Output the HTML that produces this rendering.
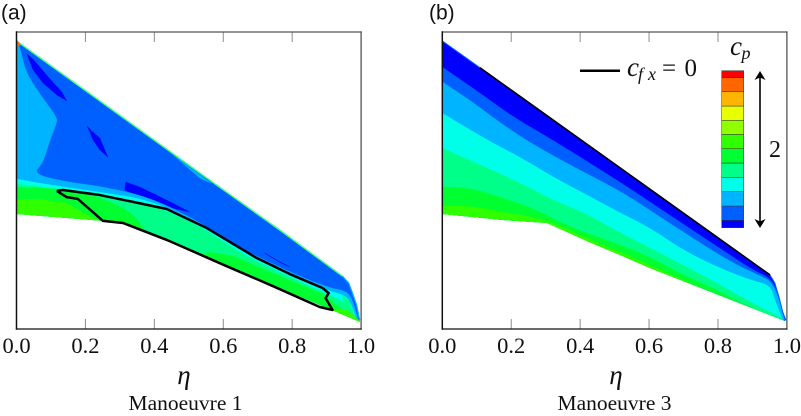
<!DOCTYPE html>
<html lang="en">
<head>
<meta charset="utf-8">
<title>Pressure coefficient contours</title>
<style>
html,body{margin:0;padding:0;background:#fff;width:801px;height:416px;overflow:hidden}
svg{display:block}
text{font-family:"Liberation Serif",serif;fill:#111}
.sans{font-family:"Liberation Sans",sans-serif}
</style>
</head>
<body>
<svg id="chart" xmlns="http://www.w3.org/2000/svg" width="801" height="416" viewBox="0 0 801 416">
<defs>
<clipPath id="clip-a"><polygon id="clip-a-shape" points=""></polygon></clipPath>
<clipPath id="clip-b"><polygon id="clip-b-shape" points=""></polygon></clipPath>
</defs>
<g id="panel-a"></g>
<g id="panel-b"></g>
<text class="sans" x="1" y="19.5" font-size="21">(a)</text>
<text class="sans" x="429" y="19.5" font-size="21">(b)</text>
<text x="184" y="384" font-size="27" font-style="italic" text-anchor="middle">η</text>
<text x="616" y="384" font-size="27" font-style="italic" text-anchor="middle">η</text>
<text x="185.5" y="410" font-size="21.5" text-anchor="middle">Manoeuvre 1</text>
<text x="614.5" y="410" font-size="21.5" text-anchor="middle">Manoeuvre 3</text>
<g>
<line x1="580" y1="70.7" x2="620" y2="70.7" stroke="#000" stroke-width="2.5"></line>
<text x="627" y="76" font-size="27" font-style="italic">c</text>
<text x="638" y="80" font-size="18" font-style="italic">f</text>
<text x="648" y="80" font-size="18" font-style="italic">x</text>
<text x="662" y="76" font-size="25">=</text>
<text x="684.5" y="76" font-size="25">0</text>
</g>
<g id="colorbar"></g>
<text x="730" y="55" font-size="27" font-style="italic">c</text>
<text x="741.5" y="59" font-size="18" font-style="italic">p</text>
<g>
<line x1="760" y1="76" x2="760" y2="222" stroke="#000" stroke-width="1.6"></line>
<polygon points="760,71 765.5,80 760,77.5 754.5,80" fill="#000"></polygon>
<polygon points="760,228 765.5,219 760,221.5 754.5,219" fill="#000"></polygon>
</g>
<text x="769" y="157" font-size="24">2</text>
</svg>
<script>
// Contour levels, lowest to highest
const levelColors = ['#0000ff','#0060ff','#00b4ff','#00ffe8','#00ff88','#00ff30','#30ff00','#90ff00','#e8ff00','#ffb400','#ff6600','#ff0000'];
const tickValues = [0, 0.2, 0.4, 0.6, 0.8, 1.0];
const tickLabels = ['0.0', '0.2', '0.4', '0.6', '0.8', '1.0'];
const colorbarBreaks = [0, 0.047, 0.138, 0.229, 0.318, 0.412, 0.503, 0.594, 0.684, 0.775, 0.866, 0.955, 1];

// Panel (a): [eta, normalised chordwise y]
const wingA = [[0,.97],[.532,.525],[.764,.333],[.946,.178],[.964,.155],[.975,.121],[.987,.081],[.996,.03],[.996,.024],[.503,.266],[.309,.357],[.251,.364],[0,.387]];
const lightBlueA = [[0,.97],[.01,.949],[.025,.872],[.059,.805],[.117,.714],[.117,.694],[.097,.636],[.077,.559],[.048,.522],[.146,.495],[.242,.481],[.387,.444],[.532,.36],[.599,.306],[.648,.273],[.793,.192],[.9,.141],[.958,.128],[.975,.098],[.99,.037]];
const cyanA = [[0,.505],[.097,.485],[.242,.461],[.387,.434],[.532,.357],[.648,.266],[.793,.185],[.9,.131],[.958,.111],[.972,.081],[.987,.03]];
const springA = [[0,.488],[.097,.475],[.242,.448],[.387,.421],[.532,.347],[.648,.256],[.793,.175],[.9,.118],[.952,.091],[.967,.047],[.981,.03]];
const greenLeftA = [[0,.478],[.146,.471],[.242,.444],[.338,.391],[.378,.323],[.378,.2],[0,.2]];
const greenRightA = [[.54,.25],[.561,.259],[.628,.246],[.743,.189],[.888,.118],[.909,.098],[.938,.074],[.972,.04],[.996,.024],[.996,.01],[.54,.2]];
const limeLeftA = [[0,.434],[.059,.438],[.146,.424],[.193,.391],[.248,.36],[.248,.3],[0,.3]];
const limeTipA = [[.917,.064],[.955,.067],[.996,.027],[.917,.01]];
const springTipA = [[.945,.115],[.965,.095],[.982,.04],[.955,.06]];
const darkPatch1A = [[.03,.926],[.048,.909],[.097,.842],[.132,.798],[.146,.768],[.117,.788],[.077,.828],[.048,.872]];
const darkPatch2A = [[.204,.684],[.222,.663],[.242,.643],[.265,.579],[.242,.603],[.222,.636],[.213,.663]];
const darkPatch3A = [[.317,.495],[.358,.478],[.436,.434],[.503,.394],[.436,.411],[.358,.445],[.314,.468]];
const darkStreakA = [[.72,.256],[.765,.225],[.793,.209]];
const edgeWedgeA = [[.454,.586],[.567,.49],[.532,.508],[.48,.56]];
const topEdgeA = [[0,.97],[.532,.525],[.764,.333],[.946,.178]];
const tipEdgeA = [[.946,.178],[.964,.155],[.975,.121],[.987,.081],[.996,.03]];
const tipDotA = [[0,.975],[.012,.955],[0,.95]];
const cfxZeroA = [[.117,.465],[.135,.468],[.242,.451],[.338,.428],[.436,.404],[.503,.367],[.552,.34],[.648,.273],[.697,.239],[.793,.185],[.888,.138],[.906,.121],[.897,.104],[.917,.064],[.88,.074],[.743,.145],[.599,.217],[.503,.266],[.436,.3],[.309,.357],[.251,.364],[.178,.438],[.146,.444],[.117,.465]];

// Panel (b): contour lines from upper (low cp) to lower (high cp)
const wingB = [[0,.97],[.951,.182],[.965,.155],[.977,.108],[.988,.057],[.997,.03],[.994,.027],[.603,.205],[.516,.249],[.42,.296],[.304,.357],[.176,.367],[0,.387]];
const contourB1 = [[0,.882],[.109,.795],[.205,.714],[.321,.636],[.516,.495],[.681,.367],[.826,.256],[.901,.199],[.951,.172],[.974,.125],[.994,.037]];
const contourB2 = [[0,.832],[.08,.771],[.176,.687],[.275,.613],[.399,.535],[.516,.465],[.646,.367],[.748,.29],[.843,.222],[.93,.175],[.956,.158],[.977,.101],[.991,.037]];
const contourB3 = [[0,.727],[.13,.636],[.225,.579],[.321,.512],[.42,.451],[.516,.391],[.603,.34],[.698,.266],[.797,.209],[.893,.165],[.951,.148],[.965,.098],[.985,.037]];
const contourB4 = [[0,.609],[.13,.542],[.225,.492],[.321,.434],[.42,.387],[.516,.323],[.603,.273],[.698,.215],[.797,.155],[.893,.091],[.985,.037]];
const contourB5 = [[0,.478],[.08,.475],[.176,.441],[.275,.401],[.37,.343],[.516,.283],[.603,.242],[.698,.182],[.797,.131],[.893,.074],[.985,.03]];
const contourB6 = [[0,.414],[.08,.414],[.176,.394],[.304,.367],[.42,.306],[.516,.259],[.603,.215],[.698,.165],[.797,.114],[.893,.064],[.985,.027]];
const topEdgeB = [[0,.97],[.109,.88]];
const tipEdgeB = [[.951,.182],[.965,.155],[.977,.108],[.988,.057],[.997,.03]];
const cfxZeroB = [[.109,.88],[.951,.182]];

const NS = 'http://www.w3.org/2000/svg';
const plotTop = 32, plotBottom = 329, plotHeight = 297, plotWidth = 344.6;
const frameLeftA = 16.5, frameLeftB = 442.3;

function xAxisA(v) { return frameLeftA + v * plotWidth; }
function xAxisB(v) { return frameLeftB + v * plotWidth; }
function yAxis(v) { return plotBottom - v * plotHeight; }

function toPoints(data, xAxis) {
  return data.map(function (p) { return xAxis(p[0]).toFixed(2) + ',' + yAxis(p[1]).toFixed(2); }).join(' ');
}
function make(tag, parent, attrs) {
  const el = document.createElementNS(NS, tag);
  Object.keys(attrs).forEach(function (k) { el.setAttribute(k, attrs[k]); });
  parent.appendChild(el);
  return el;
}
// Corner-cutting so contour polylines read as smooth curves
function smooth(data) {
  let pts = data;
  for (let n = 0; n < 2; n++) {
    const out = [pts[0]];
    for (let i = 0; i < pts.length - 1; i++) {
      const a = pts[i], b = pts[i + 1];
      out.push([a[0] * .75 + b[0] * .25, a[1] * .75 + b[1] * .25]);
      out.push([a[0] * .25 + b[0] * .75, a[1] * .25 + b[1] * .75]);
    }
    out.push(pts[pts.length - 1]);
    pts = out;
  }
  return pts;
}
function closeBelow(data) {
  return smooth(data).concat([[1, 0], [0, 0]]);
}
function fillRegion(parent, data, xAxis, color, name) {
  const el = make('polygon', parent, { points: toPoints(data, xAxis), fill: color, stroke: color, 'stroke-width': 0.3 });
  
  
  return el;
}
function strokeLine(parent, data, xAxis, color, width, name) {
  const el = make('polyline', parent, { points: toPoints(data, xAxis), fill: 'none', stroke: color, 'stroke-width': width, 'stroke-linejoin': 'round' });
  
  
  return el;
}
function drawFrame(parent, xAxis, prefix) {
  const xl = xAxis(0), xr = xAxis(1);
  tickValues.forEach(function (v, i) {
    if (i > 0 && i < tickValues.length - 1) {
      const top = make('line', parent, { x1: xAxis(v), x2: xAxis(v), y1: plotTop, y2: plotTop + 10, stroke: '#8c8c8c', 'stroke-width': 1 });
      
      
      const bottom = make('line', parent, { x1: xAxis(v), x2: xAxis(v), y1: plotBottom, y2: plotBottom - 10, stroke: '#8c8c8c', 'stroke-width': 1 });
      
      
    }
    const label = make('text', parent, { x: xAxis(v), y: 353, 'font-size': 22.5, 'text-anchor': 'middle' });
    label.textContent = tickLabels[i];
    
    
  });
  const sides = [
    [xl, plotTop, xr, plotTop, '#555', 1.2],
    [xr, plotTop, xr, plotBottom, '#444', 1.2],
    [xl, plotBottom, xr, plotBottom, '#111', 1.3],
    [xl, plotTop, xl, plotBottom, '#111', 1.5]
  ];
  sides.forEach(function (s) {
    const line = make('line', parent, { x1: s[0], y1: s[1], x2: s[2], y2: s[3], stroke: s[4], 'stroke-width': s[5], 'stroke-linecap': 'square' });
    
    
  });
}

// Panel (a)
const panelA = document.getElementById('panel-a');
document.getElementById('clip-a-shape').setAttribute('points', toPoints(wingA, xAxisA));
const bandsA = make('g', panelA, { 'clip-path': 'url(#clip-a)' });


fillRegion(bandsA, wingA, xAxisA, levelColors[1], 'band-a-blue');
fillRegion(bandsA, edgeWedgeA, xAxisA, levelColors[2], 'band-a-edge-wedge');
fillRegion(bandsA, darkPatch1A, xAxisA, levelColors[0], 'low-pressure-patch-1');
fillRegion(bandsA, darkPatch2A, xAxisA, levelColors[0], 'low-pressure-patch-2');
fillRegion(bandsA, darkPatch3A, xAxisA, levelColors[0], 'low-pressure-patch-3');
strokeLine(bandsA, darkStreakA, xAxisA, levelColors[0], 0.7, 'low-pressure-streak');
fillRegion(bandsA, closeBelow(lightBlueA), xAxisA, levelColors[2], 'band-a-light-blue');
fillRegion(bandsA, closeBelow(cyanA), xAxisA, levelColors[3], 'band-a-cyan');
fillRegion(bandsA, closeBelow(springA), xAxisA, levelColors[4], 'band-a-spring');
fillRegion(bandsA, smooth(greenLeftA), xAxisA, levelColors[5], 'band-a-green-left');
fillRegion(bandsA, greenRightA, xAxisA, levelColors[5], 'band-a-green-right');
fillRegion(bandsA, springTipA, xAxisA, levelColors[4], 'band-a-spring-tip');
fillRegion(bandsA, limeLeftA, xAxisA, levelColors[6], 'band-a-lime-left');
fillRegion(bandsA, limeTipA, xAxisA, levelColors[6], 'band-a-lime-tip');
strokeLine(panelA, topEdgeA, xAxisA, levelColors[3], 1.4, 'leading-edge-a');
strokeLine(panelA, topEdgeA, xAxisA, levelColors[7], 0.6, 'leading-edge-a-core');
strokeLine(panelA, tipEdgeA, xAxisA, levelColors[2], 1.2, 'tip-edge-a');
fillRegion(panelA, tipDotA, xAxisA, levelColors[10], 'leading-edge-peak-a');
strokeLine(panelA, cfxZeroA, xAxisA, '#000', 2.5, 'cfx-zero-contour-a');
drawFrame(panelA, xAxisA, 'axis-a');

// Panel (b)
const panelB = document.getElementById('panel-b');
document.getElementById('clip-b-shape').setAttribute('points', toPoints(wingB, xAxisB));
const bandsB = make('g', panelB, { 'clip-path': 'url(#clip-b)' });


fillRegion(bandsB, wingB, xAxisB, levelColors[0], 'band-b-level-0');
fillRegion(bandsB, closeBelow(contourB1), xAxisB, levelColors[1], 'band-b-level-1');
fillRegion(bandsB, closeBelow(contourB2), xAxisB, levelColors[2], 'band-b-level-2');
fillRegion(bandsB, closeBelow(contourB3), xAxisB, levelColors[3], 'band-b-level-3');
fillRegion(bandsB, closeBelow(contourB4), xAxisB, levelColors[4], 'band-b-level-4');
fillRegion(bandsB, closeBelow(contourB5), xAxisB, levelColors[5], 'band-b-level-5');
fillRegion(bandsB, closeBelow(contourB6), xAxisB, levelColors[6], 'band-b-level-6');
strokeLine(panelB, topEdgeB, xAxisB, levelColors[1], 1, 'leading-edge-b');
strokeLine(panelB, tipEdgeB, xAxisB, levelColors[1], 1, 'tip-edge-b');
strokeLine(panelB, cfxZeroB, xAxisB, '#000', 1.6, 'cfx-zero-contour-b');
drawFrame(panelB, xAxisB, 'axis-b');

// Colorbar
const colorbar = document.getElementById('colorbar');
const barX = 721.7, barW = 22, barTop = 70.7, barH = 157;
levelColors.forEach(function (c, i) {
  const y0 = barTop + barH * (1 - colorbarBreaks[i + 1]);
  const y1 = barTop + barH * (1 - colorbarBreaks[i]);
  const cell = make('rect', colorbar, { x: barX, y: y0, width: barW, height: y1 - y0, fill: c, stroke: '#333', 'stroke-width': 0.5 });
  
  
});
</script>
</body>
</html>
